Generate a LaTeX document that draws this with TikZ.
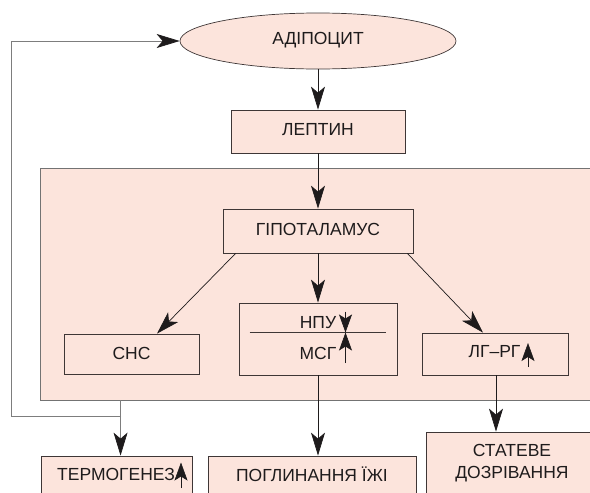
\documentclass[tikz,border=0pt]{standalone}
\usepackage{fontspec}
\setmainfont{Liberation Sans}
\usetikzlibrary{shapes.geometric,arrows.meta}
\definecolor{pinkfill}{RGB}{252,228,220}
\definecolor{boxline}{RGB}{62,54,54}
\definecolor{grayline}{RGB}{125,125,125}
\definecolor{inkc}{RGB}{30,27,28}
\begin{document}
\begin{tikzpicture}[x=1pt,y=-1pt,
  lbl/.style={anchor=base,font=\fontsize{17.5}{20}\selectfont,text=inkc,inner sep=0pt},
  boxst/.style={draw=boxline,fill=pinkfill,line width=0.8pt,inner sep=0pt},
  conn/.style={draw=inkc,line width=0.7pt,-{Stealth[length=23pt,width=14pt,inset=6pt,color=inkc]}},
  fback/.style={draw=grayline,line width=0.9pt},
  smallar/.style={draw=inkc,line width=0.6pt,-{Stealth[length=18pt,width=13pt,inset=4pt]}},
]
\useasboundingbox (0,0) rectangle (590,493);
\begin{scope}
\clip (0,0) rectangle (590,493);
% outer region
\node[draw=black!55,fill=pinkfill,line width=0.9pt,inner sep=0pt,minimum width=560pt,minimum height=232pt] (big) at (320,284) {};
% ellipse
\node[ellipse,draw=boxline,fill=pinkfill,line width=0.7pt,inner sep=0pt,minimum width=276pt,minimum height=56pt] (adi) at (318,41) {};
\node[lbl] (adit) at (318,44.3) {АДІПОЦИТ};
% boxes
\node[boxst,minimum width=174pt,minimum height=43pt] (lep) at (318,131.5) {};
\node[lbl] (lept) at (318,135) {ЛЕПТИН};
\node[boxst,minimum width=190pt,minimum height=44pt] (hyp) at (318,231) {};
\node[lbl] (hypt) at (318,235) {ГІПОТАЛАМУС};
\node[boxst,minimum width=135pt,minimum height=40pt] (snc) at (131.5,354) {};
\node[lbl] (snct) at (131.5,359) {СНС};
\node[boxst,minimum width=158pt,minimum height=72pt] (npu) at (318,339) {};
\node[lbl] (nput) at (318,328) {НПУ};
\node[lbl] (msgt) at (318,359) {МСГ};
\node[boxst,minimum width=146pt,minimum height=42pt] (lgrg) at (495,354) {};
\node[lbl] (lgrgt) at (494.5,357) {ЛГ–РГ};
\node[boxst,minimum width=151pt,minimum height=60pt] (term) at (116.5,486) {};
\node[lbl] (termt) at (116,480.7) {ТЕРМОГЕНЕЗ};
\node[boxst,minimum width=208pt,minimum height=60pt] (pogl) at (312,486) {};
\node[lbl] (poglt) at (312,481) {ПОГЛИНАННЯ ЇЖІ};
\node[boxst,minimum width=174pt,minimum height=80pt] (stat) at (513,472) {};
\node[lbl] (statt1) at (512,456.7) {СТАТЕВЕ};
\node[lbl] (statt2) at (512,478) {ДОЗРІВАННЯ};
% divider in НПУ/МСГ box
\draw[draw=boxline,line width=0.8pt] ([xshift=11pt]npu.west |- 0,332) -- ([xshift=-11pt]npu.east |- 0,332);
% small arrows
\draw[smallar] (345.5,311.5) -- (345.5,332.5);
\draw[smallar] (345.5,363) -- (345.5,332.5);
\draw[smallar] (528,367) -- (528,343);
\draw[smallar] (181,488) -- (181,462.5);
% connectors
\draw[conn] (adi.south) -- (lep.north);
\draw[conn] (lep.south) -- (hyp.north);
\draw[conn] (hyp.south) -- (npu.north);
\draw[conn] ([xshift=13pt]hyp.south west) -- ([xshift=25.5pt]snc.north);
\draw[conn] ([xshift=-6pt]hyp.south east) -- ([xshift=-12pt]lgrg.north);
\draw[conn] (npu.south) -- (npu.south |- pogl.north);
\draw[conn] ([xshift=1pt]lgrg.south) -- ([xshift=1pt]lgrg.south |- stat.north);
% feedback loop
\coordinate (bsw) at ([xshift=81pt]big.south west);
\coordinate (jn) at (121,416);
\coordinate (cl) at (11,416);
\coordinate (ct) at (11,41);
\draw[conn,draw=grayline] (bsw) -- (bsw |- term.north);
\draw[fback] (jn) -- (cl) -- (ct);
\draw[conn,draw=grayline] (ct) -- (adi.west);
\end{scope}
\end{tikzpicture}
\end{document}
